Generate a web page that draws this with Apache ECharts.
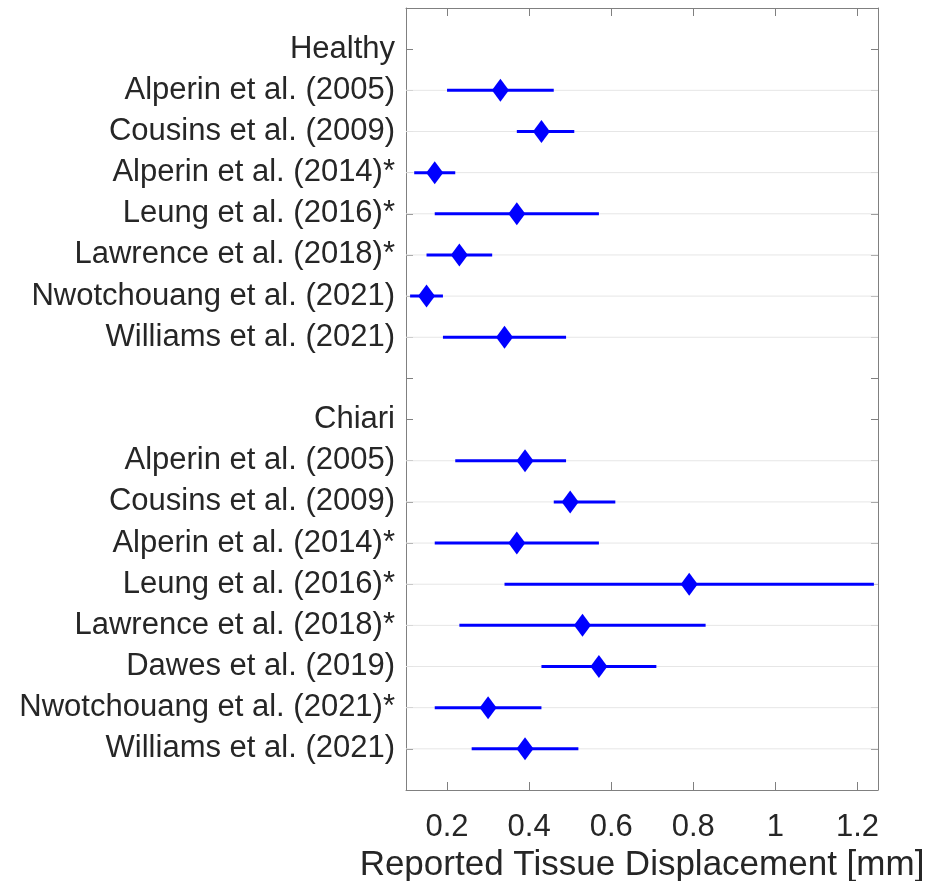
<!DOCTYPE html>
<html>
<head>
<meta charset="utf-8">
<title>Reported Tissue Displacement</title>
<script src="https://cdn.jsdelivr.net/npm/echarts@6/dist/echarts.min.js"></script>
<style>
  html, body { margin: 0; padding: 0; background: #ffffff; }
  #chart { width: 932px; height: 881px; }
</style>
</head>
<body>
<div id="chart"></div>
<script>
// Healthy cohort: study, mean displacement and range [mm]
const healthyStudies = [
  'Alperin et al. (2005)',
  'Cousins et al. (2009)',
  'Alperin et al. (2014)*',
  'Leung et al. (2016)*',
  'Lawrence et al. (2018)*',
  'Nwotchouang et al. (2021)',
  'Williams et al. (2021)'
];
const healthyMean = [0.33, 0.43, 0.17, 0.37, 0.23, 0.15, 0.34];
const healthyLow  = [0.20, 0.37, 0.12, 0.17, 0.15, 0.11, 0.19];
const healthyHigh = [0.46, 0.51, 0.22, 0.57, 0.31, 0.19, 0.49];

// Chiari cohort
const chiariStudies = [
  'Alperin et al. (2005)',
  'Cousins et al. (2009)',
  'Alperin et al. (2014)*',
  'Leung et al. (2016)*',
  'Lawrence et al. (2018)*',
  'Dawes et al. (2019)',
  'Nwotchouang et al. (2021)*',
  'Williams et al. (2021)'
];
const chiariMean = [0.39, 0.50, 0.37, 0.79, 0.53, 0.57, 0.30, 0.39];
const chiariLow  = [0.22, 0.46, 0.17, 0.34, 0.23, 0.43, 0.17, 0.26];
const chiariHigh = [0.49, 0.61, 0.57, 1.24, 0.83, 0.71, 0.43, 0.52];

// Tick labels along x
const xTicks = [0.2, 0.4, 0.6, 0.8, 1, 1.2];

// Row layout: group header, studies, an empty spacer row, second header, studies
const rowLabels = ['Healthy'].concat(healthyStudies, [''], ['Chiari'], chiariStudies);
const rowTicks = rowLabels.map((_, i) => i + 1);

const points = [];   // [mean, row]
const ranges = [];   // [row, low, high]
healthyStudies.forEach((_, i) => {
  const row = 2 + i;
  points.push([healthyMean[i], row]);
  ranges.push([row, healthyLow[i], healthyHigh[i]]);
});
chiariStudies.forEach((_, i) => {
  const row = 2 + healthyStudies.length + 2 + i;
  points.push([chiariMean[i], row]);
  ranges.push([row, chiariLow[i], chiariHigh[i]]);
});
const dataRows = ranges.map(r => [r[0]]);

const FONT = '"Liberation Sans", Arial, Helvetica, sans-serif';
const TEXT = '#262626';
const AXIS = '#808080';
const BLUE = '#0000ff';
const X_MIN = 0.1, X_MAX = 1.25, Y_MIN = 0, Y_MAX = 19;

const chart = echarts.init(document.getElementById('chart'), null, { renderer: 'canvas' });

const baseX = {
  type: 'value', min: X_MIN, max: X_MAX,
  axisLine: { show: true, onZero: false, lineStyle: { color: AXIS, width: 1 } },
  axisTick: { show: true, inside: true, length: 8, customValues: xTicks, lineStyle: { color: AXIS } },
  splitLine: { show: false }
};
const baseY = {
  type: 'value', min: Y_MIN, max: Y_MAX, inverse: true,
  axisLine: { show: true, onZero: false, lineStyle: { color: AXIS, width: 1 } },
  axisTick: { show: true, inside: true, length: 7, customValues: rowTicks, lineStyle: { color: AXIS } },
  splitLine: { show: false }
};

chart.setOption({
  animation: false,
  backgroundColor: '#ffffff',
  grid: { left: 406, right: 54, top: 8, bottom: 91, containLabel: false, outerBoundsMode: 'none' },
  xAxis: [
    Object.assign({}, baseX, {
      position: 'bottom',
      name: 'Reported Tissue Displacement [mm]',
      nameLocation: 'middle',
      nameGap: 56,
      nameTextStyle: { color: TEXT, fontFamily: FONT, fontSize: 35 },
      axisLabel: {
        show: true, customValues: xTicks, margin: 22,
        color: TEXT, fontFamily: FONT, fontSize: 31,
        formatter: v => String(+v.toFixed(2))
      }
    }),
    Object.assign({}, baseX, { position: 'top', axisLabel: { show: false } })
  ],
  yAxis: [
    Object.assign({}, baseY, {
      position: 'left',
      axisLabel: {
        show: true, customValues: rowTicks, margin: 11,
        color: TEXT, fontFamily: FONT, fontSize: 31,
        formatter: v => rowLabels[Math.round(v) - 1] || ''
      }
    }),
    Object.assign({}, baseY, { position: 'right', axisLabel: { show: false } })
  ],
  series: [
    {
      // light horizontal guide at each study row
      type: 'custom',
      xAxisIndex: 0, yAxisIndex: 0,
      data: dataRows,
      encode: { y: 0 },
      silent: true, z: 1,
      renderItem: (params, api) => {
        const cs = params.coordSys;
        const y = api.coord([X_MIN, api.value(0)])[1];
        return {
          type: 'line',
          shape: { x1: cs.x, y1: y, x2: cs.x + cs.width, y2: y },
          style: { stroke: '#e6e6e6', lineWidth: 1 }
        };
      }
    },
    {
      // horizontal range bars
      type: 'custom',
      xAxisIndex: 0, yAxisIndex: 0,
      data: ranges,
      encode: { y: 0, x: [1, 2] },
      z: 2,
      renderItem: (params, api) => {
        const row = api.value(0);
        const a = api.coord([api.value(1), row]);
        const b = api.coord([api.value(2), row]);
        return {
          type: 'line',
          shape: { x1: a[0], y1: a[1], x2: b[0], y2: b[1] },
          style: { stroke: BLUE, lineWidth: 3 }
        };
      }
    },
    {
      // mean values
      type: 'scatter',
      xAxisIndex: 0, yAxisIndex: 0,
      data: points,
      symbol: 'diamond',
      symbolSize: [17, 23],
      itemStyle: { color: BLUE, opacity: 1 },
      z: 3
    }
  ]
});
</script>
</body>
</html>
